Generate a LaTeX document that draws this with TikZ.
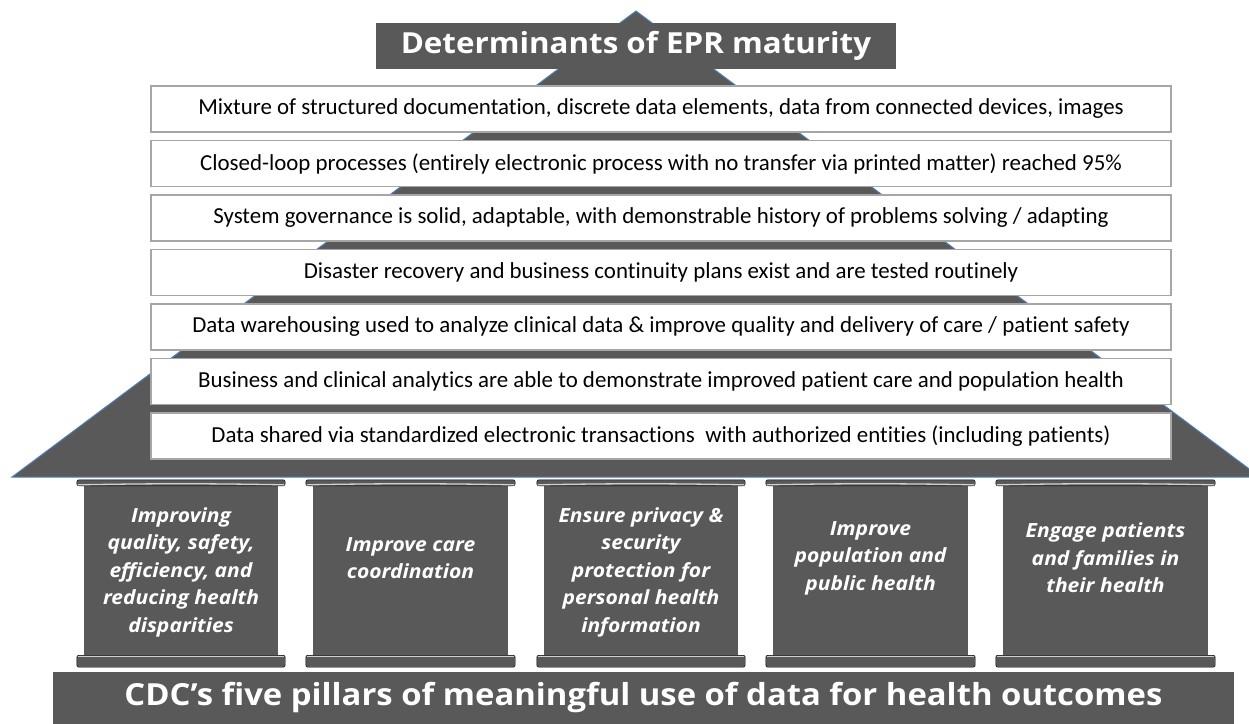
\documentclass[tikz,border=0pt]{standalone}
\usepackage{fontspec}
\setmainfont{Carlito}[Ligatures=NoCommon]
\newfontfamily\headfont{Open Sans}[FakeStretch=1.08]
\definecolor{slate}{HTML}{595959}
\definecolor{edgeblue}{HTML}{4F81BD}
\definecolor{rim}{HTML}{A6A6A6}
\definecolor{shinegray}{HTML}{D0D0D0}
\tikzset{
  level/.style={draw=rim, line width=1.5pt, fill=white, minimum width=1020pt, minimum height=46pt, inner sep=0pt, font=\fontsize{22.9}{27}\selectfont},
  banner/.style={fill=slate, text=white, inner sep=0pt},
  pillar/.style={fill=slate, minimum height=169pt, inner sep=0pt},
  goal/.style={text=white, align=center, inner sep=0pt, font=\headfont\bfseries\itshape\fontsize{19.5}{27.5}\selectfont},
  slab/.style={fill=slate, rounded corners=2pt},
  shine/.style={draw=shinegray, line width=1.3pt},
}
\begin{document}
\begin{tikzpicture}[x=1pt,y=-1pt]
\useasboundingbox (0,0) rectangle (1249,723);
% roof
\filldraw[fill=slate, draw=edgeblue, line width=1pt] (12,477) -- (636,11) -- (1260,477) -- cycle;
\node[banner, minimum width=520pt, minimum height=46pt, font=\headfont\bfseries\fontsize{29}{34}\selectfont] (title) at (636,46) {Determinants of EPR maturity};
% maturity levels
\node[level] (level1) at (661,109) {Mixture of structured documentation, discrete data elements, data from connected devices, images};
\node[level] (level2) at (661,163.5) {Closed-loop processes (entirely electronic process with no transfer via printed matter) reached 95\%};
\node[level] (level3) at (661,218) {System governance is solid, adaptable, with demonstrable history of problems solving / adapting};
\node[level] (level4) at (661,272.5) {Disaster recovery and business continuity plans exist and are tested routinely};
\node[level] (level5) at (661,327) {Data warehousing used to analyze clinical data \& improve quality and delivery of care / patient safety};
\node[level] (level6) at (661,381.5) {Business and clinical analytics are able to demonstrate improved patient care and population health};
\node[level] (level7) at (661,436) {Data shared via standardized electronic transactions~ with authorized entities (including patients)};
% pillars
\node[pillar, minimum width=194pt] (pillar1) at (181,570.5) {};
\node[pillar, minimum width=195pt] (pillar2) at (410.5,570.5) {};
\node[pillar, minimum width=194pt] (pillar3) at (641,570.5) {};
\node[pillar, minimum width=195pt] (pillar4) at (870.5,570.5) {};
\node[pillar, minimum width=205pt] (pillar5) at (1105.5,570.5) {};
\foreach \p in {pillar1,pillar2,pillar3,pillar4,pillar5}{
  \draw[slab] ([xshift=-7pt]\p.north west) rectangle ([xshift=7pt,yshift=6pt]\p.north east);
  \draw[shine] ([xshift=-6pt,yshift=1pt]\p.north west) to[bend left=1] ([xshift=6pt,yshift=1pt]\p.north east);
  \draw[slab] ([xshift=-7pt]\p.south west) rectangle ([xshift=7pt,yshift=-12pt]\p.south east);
  \draw[shine] ([xshift=-6pt,yshift=-1pt]\p.south west) -- ([xshift=6pt,yshift=-1pt]\p.south east);
}
\node[goal] (goal1) at (181,572) {Improving\\quality, safety,\\efficiency, and\\reducing health\\disparities};
\node[goal] (goal2) at (410.5,558) {Improve care\\coordination};
\node[goal] (goal3) at (641,572) {Ensure privacy \&\\security\\protection for\\personal health\\information};
\node[goal] (goal4) at (870.5,558) {Improve\\population and\\public health};
\node[goal] (goal5) at (1105.5,558) {Engage patients\\and families in\\their health};
% base
\node[banner, minimum width=1181pt, minimum height=52pt, font=\headfont\bfseries\fontsize{30.4}{36}\selectfont] (base) at (643.5,698) {CDC’s five pillars of meaningful use of data for health outcomes};
\end{tikzpicture}
\end{document}
